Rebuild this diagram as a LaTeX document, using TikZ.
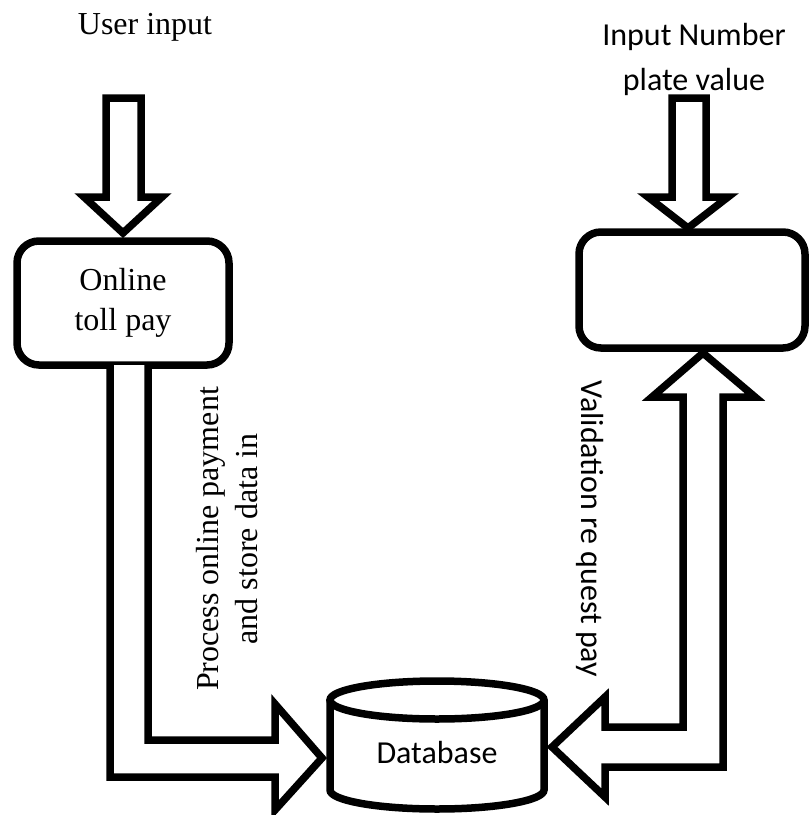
\documentclass[tikz,border=0pt]{standalone}
\usepackage{fontspec}
\setmainfont{Liberation Serif}
\newfontfamily\sansf{Carlito}
\newcommand\mysz{\fontsize{32}{40}\selectfont}
\newcommand\mysztwo{\fontsize{32}{45}\selectfont}
\newcommand\myszthree{\fontsize{32}{39}\selectfont}
\begin{document}
\begin{tikzpicture}[x=1pt,y=-1pt,line width=7.5pt,line join=miter,
  box/.style={draw,rounded corners=22pt,inner sep=0pt,outer sep=0pt,align=center},
  blockarrow/.style={draw,fill=white,line join=miter},
  lbl/.style={inner sep=0pt,align=center}]
\useasboundingbox (0,0) rectangle (809,815);
% boxes
\node[box,minimum width=212pt,minimum height=124pt,font=\mysz] (toll) at (123,303) {Online\\toll pay};
\node[box,minimum width=226pt,minimum height=116pt] (val) at (692,290) {};
% database cylinder
\coordinate (dbc) at (437,700);
\draw[fill=white] (330,700) -- (330,790) arc[start angle=180,end angle=0,x radius=107,y radius=19] -- (544,700);
\draw (dbc) ellipse[x radius=107,y radius=19];
\node[lbl,font=\sansf\mysz] (db) at (437,752) {Database};
% top arrows
\draw[blockarrow] (106,98) -- (141,98) -- (141,197) -- (162,197) -- (123,233) -- (84,197) -- (106,197) -- cycle;
\draw[blockarrow] (672,98) -- (706,98) -- (706,197) -- (728,197) -- (688,228) -- (648,197) -- (672,197) -- cycle;
% left elbow arrow
\draw[blockarrow] (110,365) -- (110,777) -- (275,777) -- (275,810) -- (322,758) -- (275,704) -- (275,740) -- (148,740) -- (148,365);
% right elbow arrow
\draw[blockarrow] (723,767) -- (723,397) -- (755,397) -- (703,353) -- (652,397) -- (683,397) -- (683,727) -- (605,727) -- (605,697) -- (552,747) -- (605,797) -- (605,767) -- cycle;
% labels
\node[lbl,font=\mysz] (userin) at (145,27) {User input};
\node[lbl,font=\sansf\mysztwo] (plate) at (694,59) {Input Number\\plate value};
\node[lbl,font=\myszthree,rotate=90] (proc) at (227,539) {Process online payment\\and store data in};
\node[lbl,font=\sansf\mysz,rotate=-90] (valreq) at (590,529) {Validation re quest pay};
\end{tikzpicture}
\end{document}
